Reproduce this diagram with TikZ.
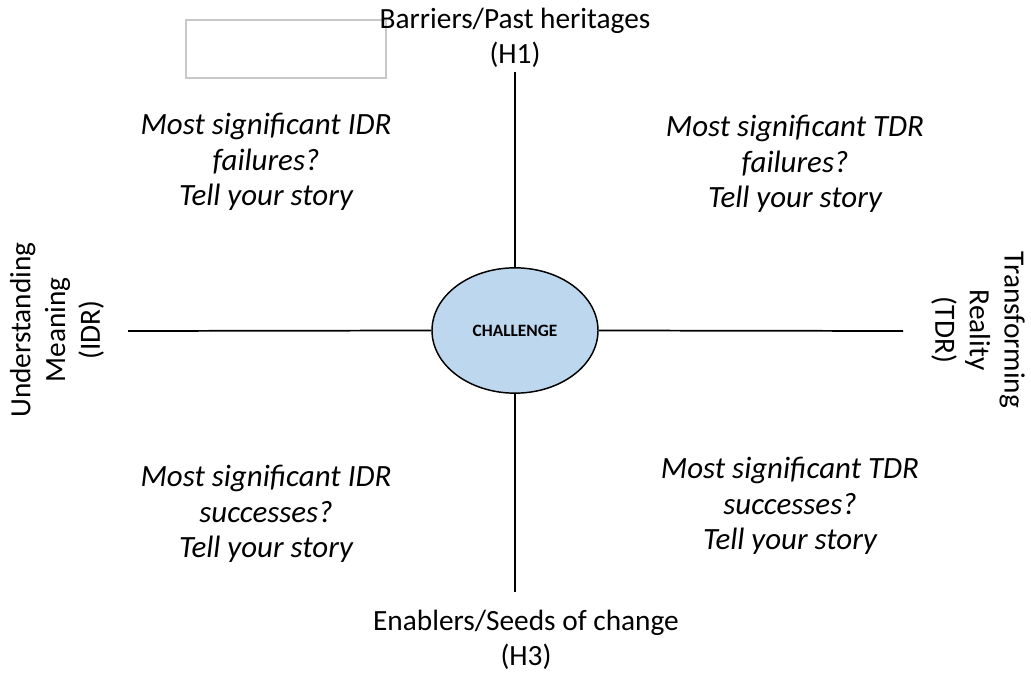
\documentclass[tikz,border=0pt]{standalone}
\usepackage{fontspec}
\usetikzlibrary{shapes.geometric}
\setmainfont{Carlito}
\definecolor{challengefill}{HTML}{BDD7EE}
\definecolor{boxgray}{HTML}{C8C8C8}
\begin{document}
\begin{tikzpicture}[x=0.75pt,y=-0.75pt,
  axisline/.style={line width=1.3pt,black},
  quadtext/.style={align=center,font=\fontsize{23.2}{26.6}\selectfont\itshape},
  axislabel/.style={align=center,font=\fontsize{22}{26}\selectfont},
]
\useasboundingbox (0,0) rectangle (1031,673);
% empty box in the upper left
\draw[boxgray,line width=0.8pt] (186,20) rectangle (386,78);
% central ellipse
\node[draw=black,line width=1.1pt,fill=challengefill,ellipse,minimum width=124.5pt,minimum height=94pt,inner sep=0pt,
  font=\fontsize{13}{15}\selectfont\bfseries] (c) at (515,330.5) {CHALLENGE};
% axis end points
\coordinate (top) at (515,72);
\coordinate (bot) at (515,592);
\coordinate (lft) at (128,331);
\coordinate (rgt) at (903,331);
\draw[axisline] (top) -- (c.north);
\draw[axisline] (c.south) -- (bot);
\draw[axisline] (lft) -- (c.west);
\draw[axisline] (c.east) -- (rgt);
% axis labels
\node[axislabel] (h1) at (515,38) {Barriers/Past heritages\\(H1)};
\node[axislabel] (h3) at (526,640) {Enablers/Seeds of change\\(H3)};
\node[axislabel,rotate=90] (idr) at (57,330) {Understanding\\Meaning\\(IDR)};
\node[axislabel,rotate=-90] (tdr) at (978,330) {Transforming\\Reality\\(TDR)};
% quadrant questions
\node[quadtext] (q1) at (266,162) {Most significant IDR\\failures?\\Tell your story};
\node[quadtext] (q2) at (795,164) {Most significant TDR\\failures?\\Tell your story};
\node[quadtext] (q3) at (266,514) {Most significant IDR\\successes?\\Tell your story};
\node[quadtext] (q4) at (790,506) {Most significant TDR\\successes?\\Tell your story};
\end{tikzpicture}
\end{document}
